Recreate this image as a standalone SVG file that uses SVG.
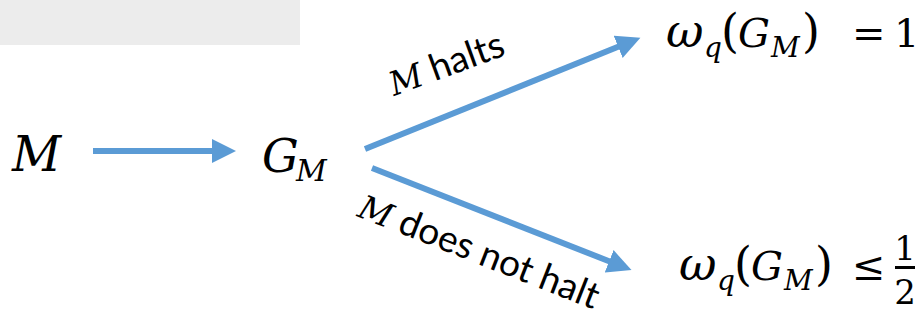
<svg xmlns="http://www.w3.org/2000/svg" width="924" height="325" viewBox="0 0 924 325">
  <style>
    .math { font-family: "DejaVu Serif", "Liberation Serif", serif; fill: #000; }
    .it { font-style: italic; }
    .lbl { font-family: Lato, "Open Sans", sans-serif; font-size: 37px; fill: #000; }
    .lbl .v { font-family: "DejaVu Serif", serif; font-style: italic; font-size: 33px; }
    .edge { stroke: #5b9bd5; stroke-width: 6; fill: none; }
  </style>
  <defs>
    <marker id="head" markerUnits="userSpaceOnUse" markerWidth="26" markerHeight="24" refX="2" refY="12" orient="auto">
      <path d="M0,0 L24,12 L0,24 Z" fill="#5b9bd5"/>
    </marker>
  </defs>

  <!-- grey banner in the top-left corner -->
  <rect x="0" y="0" width="300" height="45" fill="#ececec"/>

  <g id="node-M">
    <text class="math it" x="12" y="171" font-size="48">M</text>
  </g>

  <g id="node-GM">
    <text class="math it" x="262" y="172" font-size="46">G<tspan x="296" y="181" font-size="30">M</tspan></text>
  </g>

  <g id="node-halt">
    <text class="math" y="47" font-size="40"><tspan class="it" x="666" font-size="46">ω</tspan><tspan class="it" x="704" y="57" font-size="28">q</tspan><tspan x="721" y="47" font-size="46">(</tspan><tspan class="it" x="738">G</tspan><tspan class="it" x="771" y="57" font-size="28">M</tspan><tspan x="802" y="47" font-size="46">)</tspan><tspan x="852">=</tspan><tspan x="894">1</tspan></text>
  </g>

  <g id="node-nohalt">
    <text class="math" y="280" font-size="40"><tspan class="it" x="679" font-size="46">ω</tspan><tspan class="it" x="717" y="290" font-size="28">q</tspan><tspan x="734" y="280" font-size="46">(</tspan><tspan class="it" x="751">G</tspan><tspan class="it" x="784" y="290" font-size="28">M</tspan><tspan x="815" y="280" font-size="46">)</tspan><tspan x="852">≤</tspan></text>
    <text class="math" x="905" y="260" font-size="34" text-anchor="middle">1</text>
    <rect x="895" y="266" width="20" height="3" fill="#000"/>
    <text class="math" x="905" y="304" font-size="34" text-anchor="middle">2</text>
  </g>

  <g id="connectors">
    <line class="edge" x1="93" y1="151" x2="214" y2="151" marker-end="url(#head)"/>
    <line class="edge" x1="365" y1="149" x2="620" y2="46" marker-end="url(#head)"/>
    <line class="edge" x1="372" y1="168" x2="611" y2="262" marker-end="url(#head)"/>
    <text class="lbl" transform="translate(394,96) rotate(-20)"><tspan class="v">M</tspan> halts</text>
    <text class="lbl" font-size="36" transform="translate(356,216) rotate(21.5)"><tspan class="v">M</tspan> does not halt</text>
  </g>
</svg>
